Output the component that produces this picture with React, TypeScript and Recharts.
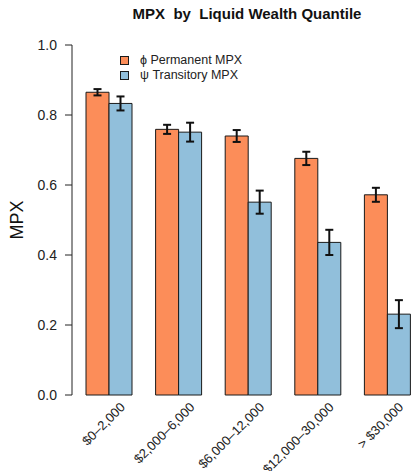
import { Bar, BarChart, ErrorBar, XAxis, YAxis } from 'recharts';

const categories = ['$0\u20132,000', '$2,000\u20136,000', '$6,000\u201312,000', '$12,000\u201330,000', '> $30,000'];
const permanent = [0.865, 0.759, 0.74, 0.676, 0.572];
const permanentErr = [0.009, 0.013, 0.017, 0.019, 0.02];
const transitory = [0.833, 0.751, 0.551, 0.436, 0.231];
const transitoryErr = [0.02, 0.027, 0.033, 0.036, 0.04];
const yTicks = [0, 0.2, 0.4, 0.6, 0.8, 1.0];

const ORANGE = '#FC8D59';
const BLUE = '#91BFDB';
const INK = '#1a1a1a';
const FONT = '"Liberation Sans", Arial, sans-serif';

const rows = categories.map((c, i) => ({
  label: c,
  perm: permanent[i],
  permErr: permanentErr[i],
  trans: transitory[i],
  transErr: transitoryErr[i],
}));

const legendItems = [
  { color: ORANGE, text: '\u03d5 Permanent MPX' },
  { color: BLUE, text: '\u03c8 Transitory MPX' },
];

function XTick({ x, y, payload }: any) {
  return (
    <text
      transform={`translate(${x + 17},${y + 13}) rotate(-45)`}
      textAnchor="end"
      fontSize={13}
      fontFamily={FONT}
      fill="#222"
    >
      {payload.value}
    </text>
  );
}

// legend drawn as plain html on top of the chart
function LegendBox() {
  return (
    <div
      style={{
        position: 'absolute',
        left: 120,
        top: 53,
        fontFamily: FONT,
        fontSize: 12.5,
        color: '#222',
        lineHeight: '15px',
      }}
    >
      {legendItems.map((it) => (
        <div key={it.text} style={{ display: 'flex', alignItems: 'center' }}>
          <span
            style={{
              display: 'inline-block',
              width: 7,
              height: 7,
              background: it.color,
              border: `1px solid ${INK}`,
              marginRight: 11,
            }}
          />
          <span>{it.text}</span>
        </div>
      ))}
    </div>
  );
}

export default function App() {
  return (
    <div style={{ position: 'absolute', left: 0, top: 0, width: 411, height: 471, overflow: 'hidden', background: '#fff' }}>
      <div
        style={{
          position: 'absolute',
          left: 72,
          width: 350,
          top: 5,
          textAlign: 'center',
          fontFamily: FONT,
          fontWeight: 'bold',
          fontSize: 15,
          whiteSpace: 'pre',
          color: '#111',
        }}
      >
        {'MPX  by  Liquid Wealth Quantile'}
      </div>
      <div
        style={{
          position: 'absolute',
          left: 17,
          top: 220,
          transform: 'translate(-50%, -50%) rotate(-90deg)',
          fontFamily: FONT,
          fontSize: 18,
          color: '#111',
        }}
      >
        MPX
      </div>
      <BarChart
        width={422}
        height={471}
        data={rows}
        margin={{ top: 45, right: 0, bottom: 0, left: 0 }}
        barGap={0}
        barSize={23}
      >
        <XAxis
          dataKey="label"
          axisLine={false}
          tickLine={false}
          tickSize={0}
          tickMargin={0}
          interval={0}
          padding={{ left: 2, right: 0 }}
          height={76}
          tick={<XTick />}
        />
        <YAxis
          type="number"
          domain={[0, 1]}
          ticks={yTicks}
          width={72}
          tickSize={7}
          tickMargin={8}
          stroke="#222"
          tick={{ fill: '#222', fontSize: 14, fontFamily: FONT }}
          tickFormatter={(v: number) => v.toFixed(1)}
        />
        <Bar dataKey="perm" fill={ORANGE} stroke={INK} strokeWidth={1} isAnimationActive={false}>
          <ErrorBar dataKey="permErr" width={4} strokeWidth={2} stroke="#111" direction="y" isAnimationActive={false} />
        </Bar>
        <Bar dataKey="trans" fill={BLUE} stroke={INK} strokeWidth={1} isAnimationActive={false}>
          <ErrorBar dataKey="transErr" width={4} strokeWidth={2} stroke="#111" direction="y" isAnimationActive={false} />
        </Bar>
      </BarChart>
      <LegendBox />
    </div>
  );
}
